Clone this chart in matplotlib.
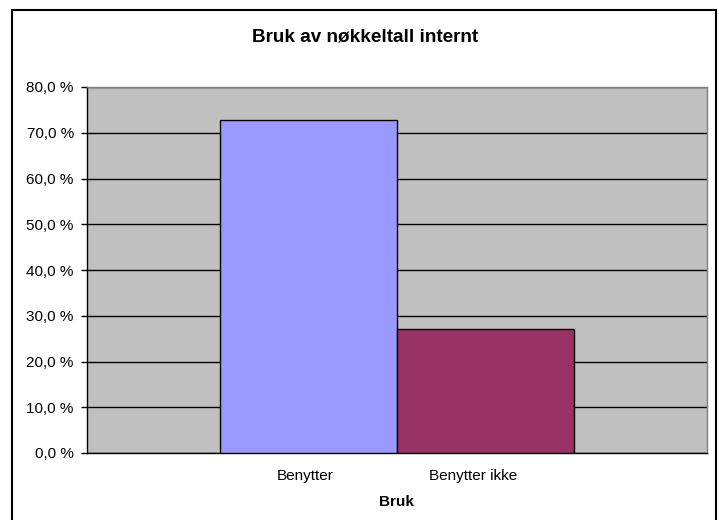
import matplotlib
matplotlib.use("Agg")
import matplotlib.pyplot as plt
from matplotlib.patches import Rectangle

plt.rcParams['font.family'] = ['Liberation Sans', 'DejaVu Sans']

# data
categories = ['Benytter', 'Benytter ikke']
shares = [72.8, 27.2]
bar_colors = ['#9999FF', '#993366']
y_ticks = [0, 10, 20, 30, 40, 50, 60, 70, 80]
y_tick_labels = [('%.1f %%' % v).replace('.', ',') for v in y_ticks]

W, H = 719, 520
fig = plt.figure(figsize=(W / 100, H / 100), dpi=100)

# plot area in pixels: x 87..707, y 87..453
ax = fig.add_axes([87 / W, (H - 453) / H, (707 - 87) / W, (453 - 87) / H])
ax.set_facecolor('#C0C0C0')

pos = list(range(len(categories)))
ax.bar(pos, shares, width=1.0, color=bar_colors, edgecolor='black',
       linewidth=1.0, zorder=3)

ax.set_ylim(0, 80)
ax.set_xlim(-1.251, 2.251)
ax.set_yticks(y_ticks)
ax.set_yticklabels(y_tick_labels, fontsize=11)
ax.yaxis.grid(True, color='black', linewidth=1.0, zorder=1)
ax.set_axisbelow(True)
ax.tick_params(axis='y', length=4, width=1, direction='out', pad=5.5, colors='black')

# category labels sit a bit left of the bar centres in the original
ax.set_xticks([pos[0] - 0.017, pos[1] - 0.07])
ax.set_xticklabels(categories, fontsize=11)
ax.tick_params(axis='x', length=0, pad=11.5)
ax.set_xlabel('Bruk', fontsize=11, fontweight='bold', labelpad=9)

for s in ['left', 'bottom']:
    ax.spines[s].set_color('black')
    ax.spines[s].set_linewidth(1.0)
for s in ['top', 'right']:
    ax.spines[s].set_color('#808080')
    ax.spines[s].set_linewidth(1.0)

fig.text(365 / W, 1 - 37 / H, 'Bruk av nøkkeltall internt', ha='center', va='center',
         fontsize=13.6, fontweight='bold')

# outer chart border
fig.patches.append(Rectangle((11.5 / W, -0.05), (716 - 11.5) / W, 1.05 - 10.5 / H,
                             transform=fig.transFigure, fill=False,
                             edgecolor='black', linewidth=1.5))

fig.savefig('out.png', dpi=100)
